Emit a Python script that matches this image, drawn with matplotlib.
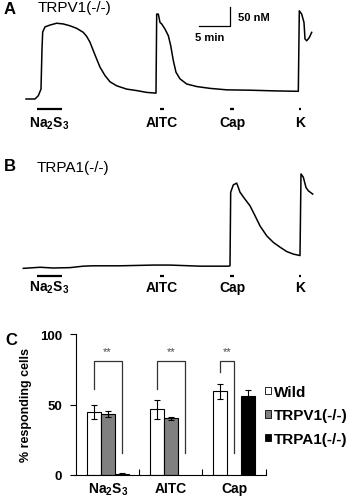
import matplotlib
matplotlib.use("Agg")
import matplotlib.pyplot as plt
from matplotlib.patches import Patch
import numpy as np

plt.rcParams['font.family'] = ['Liberation Sans', 'DejaVu Sans']
plt.rcParams['mathtext.fontset'] = 'custom'
plt.rcParams['mathtext.rm'] = 'Liberation Sans:bold'
plt.rcParams['mathtext.bf'] = 'Liberation Sans:bold'

W, H = 358, 502

# trace A: TRPV1(-/-), time (min) and [Ca2+]i (nM)
a_time = [0, 1.44, 1.97, 2.40, 2.56, 2.67, 3.04, 3.84, 4.91, 5.97, 7.04, 8.11, 9.17,
          9.71, 10.24, 10.77, 11.31, 11.84, 12.64, 13.44, 14.51, 16.11, 17.71, 19.31,
          20.80, 20.91, 21.17, 21.44, 21.71, 22.24, 22.77, 23.15, 23.57, 24.0, 24.64,
          25.71, 27.31, 29.44, 32.11, 35.84, 40.11, 43.57, 43.73, 44.11, 44.48, 44.64,
          44.91, 45.33, 45.71]
a_ca = [50, 50, 59, 77, 187, 233, 247, 252, 257, 255, 250, 243, 232,
        221, 205, 182, 159, 137, 114, 97, 86, 77, 73, 68,
        66, 282, 282, 259, 255, 241, 223, 196, 155, 123, 105,
        91, 84, 79, 75, 74, 72, 71, 291, 282, 259, 214,
        209, 218, 232]

# trace B: TRPA1(-/-)
b_time = [-0.43, 2.24, 4.37, 7.04, 9.17, 10.77, 15.04, 20.37, 23.04, 27.84, 32.37,
          32.64, 32.75, 33.17, 33.71, 33.97, 34.24, 35.04, 35.84, 36.64, 37.44, 38.51,
          39.57, 40.64, 41.71, 42.77, 43.84, 44.0, 44.37, 44.8, 45.17, 45.87]
b_ca = [49, 52, 50, 51, 55, 56, 56, 58, 58, 55, 55,
        56, 257, 277, 282, 270, 257, 238, 220, 193, 165, 138,
        120, 107, 95, 88, 84, 307, 298, 270, 261, 252]

# stimuli (min)
stim_names = ['Na$_2$S$_3$', 'AITC', 'Cap', 'K']
stim_start = [1.81, 21.44, 32.64, 43.73]
stim_end = [5.71, 22.08, 33.28, 43.95]

# panel C
groups = ['Na$_2$S$_3$', 'AITC', 'Cap']
wild = [44.5, 46.5, 59.5]
wild_err = [5, 7, 5.3]
trpv1 = [43.3, 40.2, np.nan]
trpv1_err = [2, 1, np.nan]
trpa1 = [1.0, np.nan, 56.2]
trpa1_err = [0.5, np.nan, 4]
# brackets: group, left series, right series, left leg end, right leg end
brackets = [(0, 0, 2, 61, 15.4), (1, 0, 2, 61, 15.4), (2, 0, 1, 72.8, 15.4)]
bracket_top = 80.6


def fig_rect(x0, y0, x1, y1):
    return [x0 / W, 1 - y1 / H, (x1 - x0) / W, (y1 - y0) / H]


def fig_xy(x, y):
    return x / W, 1 - y / H


fig = plt.figure(figsize=(W / 100, H / 100), dpi=100)


def trace_panel(rect, t, ca, ylim, bar_y, lab_y):
    ax = fig.add_axes(rect)
    ax.plot(t, ca, color='black', lw=1.1)
    for name, s, e in zip(stim_names, stim_start, stim_end):
        ax.plot([s, e], [bar_y, bar_y], color='black', lw=1.6, solid_capstyle='butt')
        ax.text((s + e) / 2, lab_y, name, ha='center', va='center',
                fontsize=10, fontweight='bold')
    ax.set_xlim(-0.96, 47.04)
    ax.set_ylim(*ylim)
    ax.axis('off')
    return ax


axA = trace_panel(fig_rect(20, 0, 320, 130), a_time, a_ca, (-32, 323.2), 22.7, -13.7)
# scale bar 5 min / 50 nM
axA.plot([27.7, 32.7, 32.7], [250, 250, 300], color='black', lw=0.9)
axA.text(33.9, 274, '50 nM', ha='left', va='center', fontsize=8, fontweight='bold')
axA.text(29.4, 219, '5 min', ha='center', va='center', fontsize=8, fontweight='bold')

axB = trace_panel(fig_rect(20, 160, 320, 300), b_time, b_ca, (-34.7, 347.8), 29, -2.7)

fig.text(*fig_xy(4, 9), 'A', fontsize=12, fontweight='bold', va='center')
fig.text(*fig_xy(38, 8), 'TRPV1(-/-)', fontsize=11, va='center')
fig.text(*fig_xy(4, 167), 'B', fontsize=12, fontweight='bold', va='center')
fig.text(*fig_xy(37, 168), 'TRPA1(-/-)', fontsize=11, va='center')
fig.text(*fig_xy(5, 341), 'C', fontsize=12, fontweight='bold', va='center')

# panel C bars
axC = fig.add_axes(fig_rect(76, 335, 265.7, 476))
x = np.arange(len(groups))
bw = 0.221
series = [(wild, wild_err, 'white', 'Wild'),
          (trpv1, trpv1_err, '#808080', 'TRPV1(-/-)'),
          (trpa1, trpa1_err, 'black', 'TRPA1(-/-)')]
for i, (vals, errs, col, lab) in enumerate(series):
    xs = x + (i - 1) * bw
    axC.bar(xs, vals, bw, color=col, edgecolor='black', linewidth=0.8)
    axC.errorbar(xs, vals, yerr=errs, fmt='none', ecolor='black',
                 elinewidth=0.8, capsize=2.5, capthick=0.8)

for g, s1, s2, l1, l2 in brackets:
    x1 = g + (s1 - 1) * bw
    x2 = g + (s2 - 1) * bw
    axC.plot([x1, x1, x2, x2], [l1, bracket_top, bracket_top, l2],
             color='#333333', lw=0.9)
    axC.text((x1 + x2) / 2, bracket_top + 7, '**', ha='center', va='center',
             fontsize=8, color='#444444')

axC.set_xlim(-0.5, 2.5)
axC.set_ylim(0, 100)
axC.set_yticks([0, 50, 100])
axC.set_yticklabels(['0', '50', '100'], fontsize=9.5, fontweight='bold')
axC.set_xticks(x)
axC.set_xticklabels(groups, fontsize=10, fontweight='bold')
axC.set_xticks([0.5, 1.5, 2.5], minor=True)
axC.tick_params(axis='x', which='major', length=0, pad=4)
axC.tick_params(axis='x', which='minor', direction='in', length=4, width=0.8)
axC.tick_params(axis='y', length=4, width=0.8, pad=6)
for side in ['top', 'right']:
    axC.spines[side].set_visible(False)
for side in ['left', 'bottom']:
    axC.spines[side].set_linewidth(0.8)
axC.set_ylabel('% responding cells', fontsize=9, fontweight='bold', labelpad=6)

handles = [Patch(facecolor=col, edgecolor='black', linewidth=0.6, label=lab)
           for _, _, col, lab in series]
fig.legend(handles=handles, loc='upper left', bbox_to_anchor=fig_xy(265, 386),
           frameon=False, handlelength=0.4, handleheight=0.4, handletextpad=0.2,
           labelspacing=0.62, borderpad=0, borderaxespad=0,
           prop={'weight': 'bold', 'size': 11})

fig.savefig('out.png', dpi=100)
